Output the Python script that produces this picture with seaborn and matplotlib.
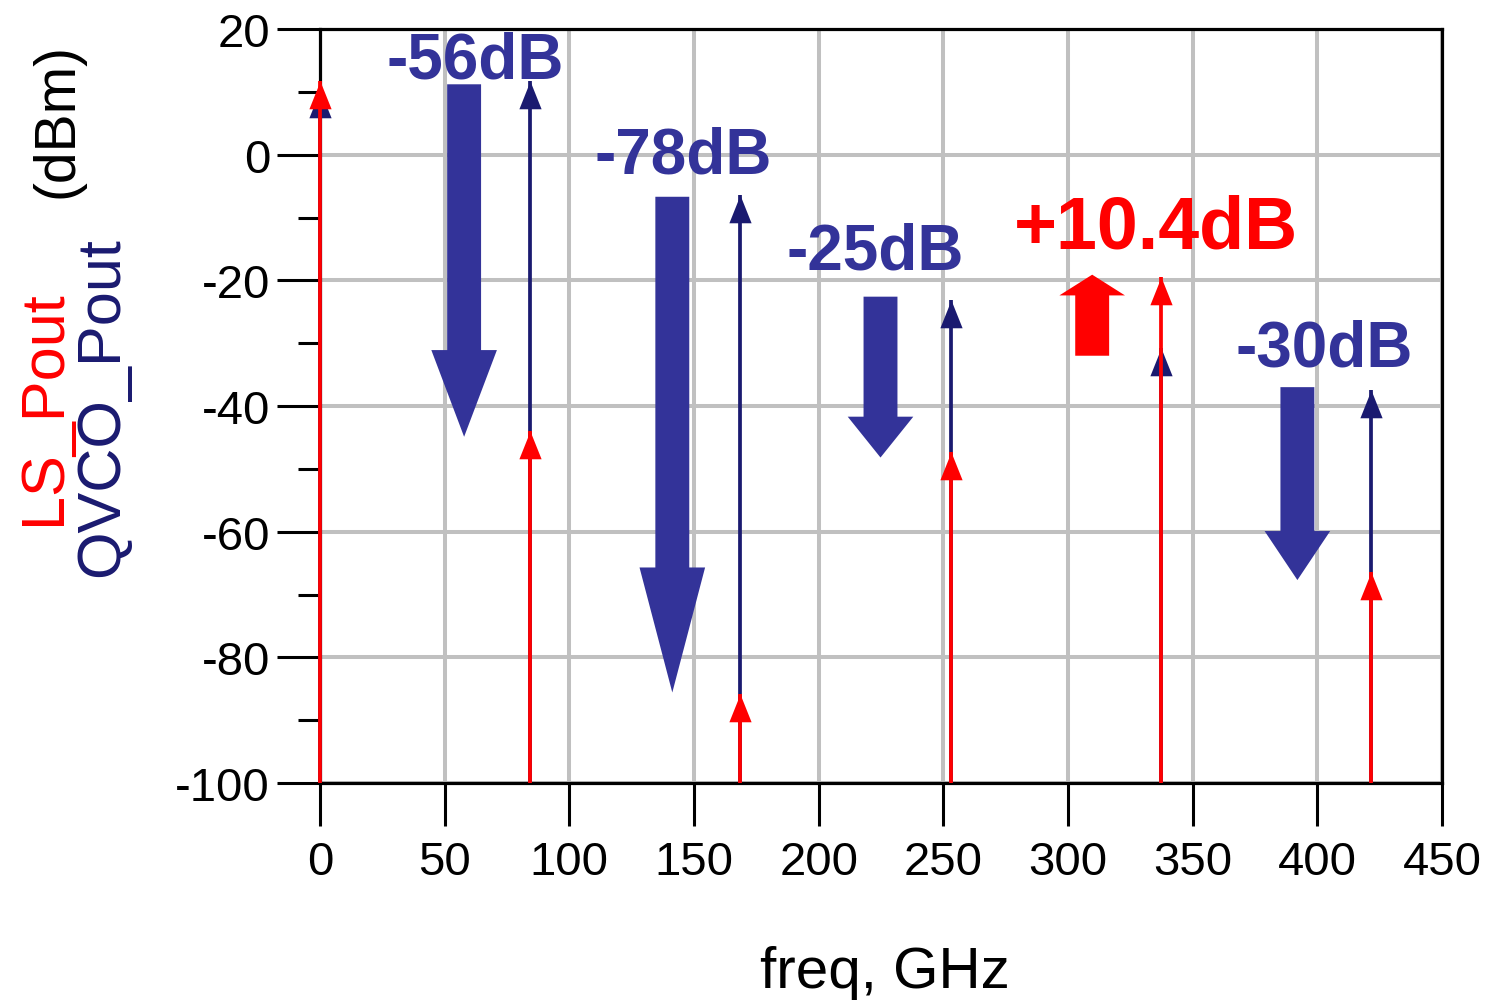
import numpy as np
import pandas as pd
import matplotlib
matplotlib.use("Agg")
import matplotlib.pyplot as plt
import matplotlib.path as mpath
from matplotlib.ticker import MultipleLocator
import seaborn as sns

# ---------------- data ----------------
freq_ghz = [0.0, 84.3, 168.6, 252.9, 337.2, 421.5]
ls_pout = [11.8, -44.0, -85.8, -47.3, -19.4, -66.4]
qvco_pout = [10.3, 11.7, -6.4, -23.2, -30.7, -37.4]

x_ticks = [0, 50, 100, 150, 200, 250, 300, 350, 400, 450]
y_ticks = [-100, -80, -60, -40, -20, 0, 20]

# annotation block arrows: x, y start, y end, head length (dB)
arrow_x = [57.8, 141.3, 224.8, 309.7, 392.0]
arrow_y0 = [11.2, -6.7, -22.6, -32.0, -37.0]
arrow_y1 = [-44.9, -85.6, -48.2, -19.1, -67.7]
arrow_head = [13.8, 19.9, 6.5, 3.3, 7.8]
arrow_colors = ["#333399", "#333399", "#333399", "#ff0000", "#333399"]

label_text = ["-56dB", "-78dB", "-25dB", "+10.4dB", "-30dB"]
label_x = [62.2, 145.7, 222.8, 335.2, 402.6]
label_y = [12.3, -2.9, -18.1, -14.8, -33.6]
label_size = [46, 46, 46, 53, 46]
label_colors = ["#333399", "#333399", "#333399", "#ff0000", "#333399"]

RED = "#ff0000"
NAVY = "#1a1a70"

df = pd.DataFrame({"freq": freq_ghz, "LS_Pout": ls_pout, "QVCO_Pout": qvco_pout})

# ---------------- style ----------------
sns.set_theme(style="white")
plt.rcParams["font.family"] = ["Liberation Sans", "DejaVu Sans"]
plt.rcParams["axes.unicode_minus"] = False

W, H = 1491, 1003
fig = plt.figure(figsize=(W / 100, H / 100), dpi=100)
fig.patch.set_facecolor("white")
ax = fig.add_axes([320 / W, 1 - 784 / H, (1442 - 320) / W, (784 - 30) / H])
ax.set_facecolor("white")

ax.set_xlim(0, 450)
ax.set_ylim(-100, 20)
ax.set_xticks(x_ticks)
ax.set_yticks(y_ticks)
ax.yaxis.set_minor_locator(MultipleLocator(10))
ax.grid(True, which="major", color="#c0c0c0", lw=2.9, zorder=1)
ax.set_axisbelow(True)

for s in ax.spines.values():
    s.set_color("black")
    s.set_linewidth(2.3)
    s.set_zorder(2.5)

ax.tick_params(axis="both", which="major", direction="out", length=31, width=2.2,
               color="black", labelsize=34, labelcolor="black")
ax.tick_params(axis="x", which="major", pad=10, bottom=True)
ax.tick_params(axis="y", which="major", pad=5, left=True)
ax.tick_params(axis="y", which="minor", direction="out", length=16, width=2.2,
               color="black", left=True)
ax.tick_params(axis="x", which="minor", bottom=False)

# triangle marker with its tip at the data point
tri = mpath.Path([(-0.4, -1.0), (0.4, -1.0), (0.0, 0.0), (-0.4, -1.0)],
                 [mpath.Path.MOVETO, mpath.Path.LINETO, mpath.Path.LINETO, mpath.Path.CLOSEPOLY])

# QVCO stems (under)
ax.vlines(df["freq"], -100, df["QVCO_Pout"], color=NAVY, lw=2.7, zorder=3, clip_on=False)
sns.scatterplot(data=df, x="freq", y="QVCO_Pout", marker=tri, s=40 ** 2,
                color=NAVY, linewidth=0, ax=ax, zorder=4, legend=False, clip_on=False)
# LS stems (over)
ax.vlines(df["freq"], -100, df["LS_Pout"], color=RED, lw=2.7, zorder=5, clip_on=False)
sns.scatterplot(data=df, x="freq", y="LS_Pout", marker=tri, s=40 ** 2,
                color=RED, linewidth=0, ax=ax, zorder=5, legend=False, clip_on=False)

# block arrows
for x, y0, y1, hl, c in zip(arrow_x, arrow_y0, arrow_y1, arrow_head, arrow_colors):
    ax.arrow(x, y0, 0, y1 - y0, width=13.6, head_width=26.3, head_length=hl,
             length_includes_head=True, color=c, lw=0, zorder=4)

# dB labels
for t, x, y, fs, c in zip(label_text, label_x, label_y, label_size, label_colors):
    ax.text(x, y, t, ha="center", va="baseline", fontsize=fs, fontweight="bold",
            color=c, zorder=7, clip_on=False)

ax.set_xlabel("")
ax.set_ylabel("")

# x label
fig.text(885 / W, 1 - 988 / H, "freq, GHz", ha="center", va="baseline",
         fontsize=42, color="black")

# y labels (stacked, coloured)
fig.text(73 / W, 1 - 120 / H, "(dBm)", rotation=90, rotation_mode="anchor",
         ha="center", va="baseline", fontsize=41, color="black")
fig.text(60 / W, 1 - 408 / H, "LS_Pout", rotation=90, rotation_mode="anchor",
         ha="center", va="baseline", fontsize=44, color=RED)
fig.text(118 / W, 1 - 407 / H, "QVCO_Pout", rotation=90, rotation_mode="anchor",
         ha="center", va="baseline", fontsize=44, color=NAVY)

fig.savefig("out.png", dpi=100, facecolor="white")
